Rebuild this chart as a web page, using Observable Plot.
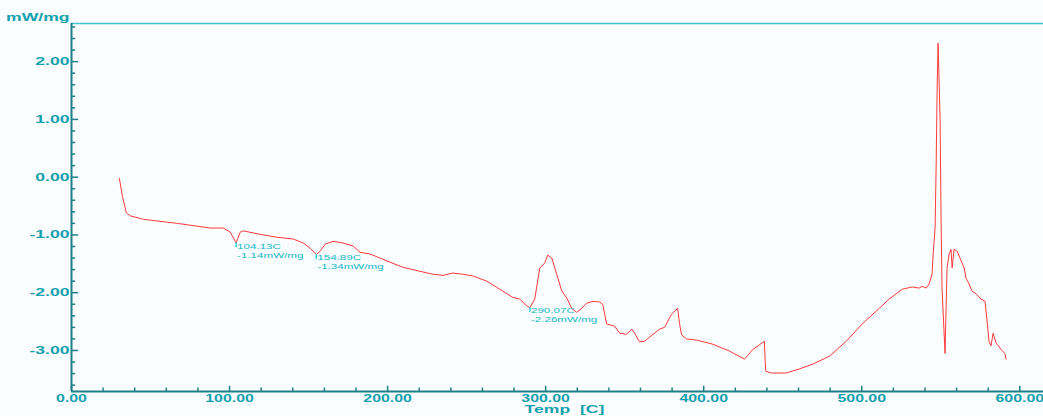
<!DOCTYPE html>
<html>
<head>
<meta charset="utf-8">
<script src="https://cdn.jsdelivr.net/npm/d3@7"></script>
<script src="https://cdn.jsdelivr.net/npm/@observablehq/plot@0.6"></script>
<style>
  html, body { margin: 0; padding: 0; background: #fafdfd; }
  #chart svg { display: block; }
</style>
</head>
<body>
<div id="chart"></div>
<script>
// DSC trace: heat flow (mW/mg) against temperature (°C)
const temps = [30.3,32.2,34.7,37.3,45.5,67.0,87.8,96.0,100.4,103.6,
  104.13,105.5,106.8,108.7,119.4,130.1,140.2,146.6,151.0,154.89,
  157.3,160.5,165.5,171.8,178.1,182.6,188.9,199.6,209.7,220.5,
  228.7,235.0,241.3,247.6,253.9,262.8,271.0,279.2,283.6,288.1,
  290.07,293.1,296.3,299.4,301.3,303.9,307.0,310.2,313.3,316.5,
  319.6,322.8,326.0,329.8,334.2,336.1,338.6,343.7,346.8,351.2,
  354.4,356.3,359.4,362.6,372.1,375.2,379.7,383.5,384.7,386.0,
  389.1,395.5,405.6,416.3,425.8,430.8,438.4,438.8,439.3,442.8,
  452.3,460.5,468.7,479.5,490.2,500.3,511.1,517.4,525.6,531.9,
  536.3,538.2,540.8,542.6,544.5,545.2,546.4,547.1,547.7,548.3,
  549.6,550.2,550.8,552.7,553.4,554.0,555.3,556.5,557.2,558.4,
  560.3,562.9,564.8,566.0,567.9,569.8,572.3,575.5,578.0,579.3,
  580.5,581.8,583.1,585.0,588.1,590.7,591.3];
const heatFlow = [-0.02,-0.33,-0.62,-0.67,-0.73,-0.80,-0.88,-0.88,-0.95,-1.11,
  -1.14,-1.04,-0.95,-0.93,-0.99,-1.04,-1.07,-1.14,-1.23,-1.34,
  -1.28,-1.16,-1.11,-1.14,-1.19,-1.30,-1.33,-1.45,-1.56,-1.63,
  -1.68,-1.70,-1.66,-1.68,-1.71,-1.80,-1.94,-2.08,-2.11,-2.23,
  -2.26,-2.11,-1.57,-1.49,-1.35,-1.40,-1.68,-1.97,-2.09,-2.27,
  -2.34,-2.27,-2.18,-2.15,-2.16,-2.20,-2.54,-2.58,-2.70,-2.72,
  -2.63,-2.70,-2.85,-2.84,-2.63,-2.60,-2.37,-2.27,-2.53,-2.73,
  -2.80,-2.82,-2.89,-3.01,-3.15,-2.99,-2.84,-3.13,-3.36,-3.39,
  -3.39,-3.32,-3.24,-3.10,-2.84,-2.54,-2.27,-2.11,-1.94,-1.90,
  -1.92,-1.89,-1.92,-1.85,-1.68,-1.33,-0.88,0.22,1.54,2.32,
  0.97,-0.76,-1.92,-3.05,-2.20,-1.57,-1.33,-1.25,-1.57,-1.25,
  -1.28,-1.45,-1.57,-1.75,-1.85,-1.97,-2.02,-2.11,-2.15,-2.49,
  -2.84,-2.92,-2.70,-2.87,-2.98,-3.06,-3.15];

// Marked endothermic peaks
const peakTemps = [104.13, 154.89, 290.07];
const peakValues = [-1.14, -1.34, -2.26];

// Axes
const xDomain = [0, 615];
const yDomain = [-3.71, 2.66];
const xTicks = [0, 100, 200, 300, 400, 500, 600];
const xMinorTicks = [20, 40, 60, 80, 120, 140, 160, 180, 220, 240, 260, 280,
  320, 340, 360, 380, 420, 440, 460, 480, 520, 540, 560, 580];
const yTicks = [2, 1, 0, -1, -2, -3];
const yMinorTicks = [2.6, 2.4, 2.2, 1.8, 1.6, 1.4, 1.2, 0.8, 0.6, 0.4, 0.2,
  -0.2, -0.4, -0.6, -0.8, -1.2, -1.4, -1.6, -1.8, -2.2, -2.4, -2.6, -2.8,
  -3.2, -3.4, -3.6];
const xLabel = "Temp  [C]";
const yLabel = "mW/mg";

const curve = temps.map((t, i) => ({t, v: heatFlow[i]}));
const peaks = peakTemps.map((t, i) => ({t, v: peakValues[i]}));

const axisColor = "#1f7f86";
const labelColor = "#12a0ae";
const noteColor = "#14b6c6";
const fmt = d => d.toFixed(2);

// horizontal stretch applied to each text mark, keyed by its font size
const stretch = {11: 1.6, 10.6: 1.5, 8: 1.45};

const chart = Plot.plot({
  width: 1043,
  height: 416,
  marginLeft: 71,
  marginRight: 0,
  marginTop: 23,
  marginBottom: 25,
  style: {background: "transparent", fontFamily: "'Liberation Sans', Arial, sans-serif", overflow: "visible"},
  x: {domain: xDomain, axis: null},
  y: {domain: yDomain, axis: null},
  marks: [
    Plot.line(curve, {x: "t", y: "v", stroke: "#ff3a3a", strokeWidth: 1}),
    // frame lines
    Plot.ruleY([yDomain[1]], {stroke: "#46c3c6", strokeWidth: 1.5}),
    Plot.ruleX([xDomain[0]], {stroke: axisColor, strokeWidth: 2}),
    Plot.ruleY([yDomain[0]], {stroke: axisColor, strokeWidth: 2}),
    // inward ticks
    Plot.ruleY(yTicks, {x1: 0, x2: 4.5, stroke: axisColor, strokeWidth: 1.5}),
    Plot.ruleY(yMinorTicks, {x1: 0, x2: 2.6, stroke: axisColor, strokeWidth: 1.5}),
    Plot.ruleX(xTicks, {y1: yDomain[0], y2: yDomain[0] + 0.09, stroke: axisColor, strokeWidth: 1.5}),
    Plot.ruleX(xMinorTicks, {y1: yDomain[0], y2: yDomain[0] + 0.06, stroke: axisColor, strokeWidth: 1.5}),
    // tick labels
    Plot.text(yTicks, {x: xDomain[0], y: d => d, text: fmt, textAnchor: "end", dx: -2,
      fill: labelColor, fontSize: 11, fontWeight: "bold"}),
    Plot.text(xTicks, {x: d => d, y: yDomain[0], text: fmt, lineAnchor: "top", dy: 3,
      fill: labelColor, fontSize: 10.6, fontWeight: "bold"}),
    // axis titles
    Plot.text([yLabel], {frameAnchor: "top-left", textAnchor: "end", lineAnchor: "middle",
      dx: -2, dy: -6, fill: labelColor, fontSize: 11, fontWeight: "bold"}),
    Plot.text([xLabel], {frameAnchor: "bottom", lineAnchor: "middle", dx: 7, dy: 18,
      fill: labelColor, fontSize: 11, fontWeight: "bold"}),
    // peak annotations
    Plot.ruleX(peaks, {x: "t", y1: "v", y2: d => d.v - 0.08, stroke: "#22d4e2", strokeWidth: 1.5}),
    Plot.text(peaks, {x: "t", y: "v",
      text: d => `${d.t.toFixed(2)}C\n${d.v.toFixed(2)}mW/mg`,
      textAnchor: "start", lineAnchor: "top", lineHeight: 1.15, dx: 1, dy: -1,
      fill: noteColor, fontSize: 8})
  ]
});

// Widen the lettering horizontally, as the instrument software prints it
chart.querySelectorAll('g[aria-label="text"]').forEach(g => {
  const fs = +g.getAttribute("font-size");
  const s = stretch[fs] || 1.5;
  g.querySelectorAll("text").forEach(t => {
    const tr = t.getAttribute("transform");
    if (tr) {
      t.setAttribute("transform", `${tr} scale(${s},1)`);
    } else {
      const x = +(t.getAttribute("x") || 0);
      t.setAttribute("transform", `translate(${x},0) scale(${s},1) translate(${-x},0)`);
    }
  });
});

document.getElementById("chart").appendChild(chart);
</script>
</body>
</html>
